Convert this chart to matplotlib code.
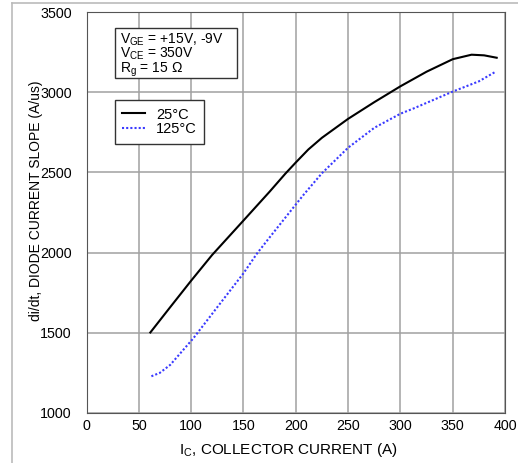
import matplotlib
matplotlib.use('Agg')
import matplotlib.pyplot as plt
from matplotlib.lines import Line2D
from matplotlib.patches import Rectangle

plt.rcParams['font.family'] = ['Liberation Sans', 'DejaVu Sans']
plt.rcParams['mathtext.fontset'] = 'custom'
plt.rcParams['mathtext.rm'] = 'Liberation Sans'

# 25C curve
ic_25 = [61, 80, 100, 120, 150, 175, 190, 200, 212, 225, 250, 275, 300, 325, 350, 368, 380, 392]
didt_25 = [1502, 1660, 1825, 1985, 2200, 2380, 2492, 2562, 2643, 2716, 2834, 2938, 3037, 3128, 3206, 3234, 3230, 3215]

# 125C curve
ic_125 = [62, 70, 80, 90, 102, 125, 150, 163, 175, 200, 208, 225, 250, 275, 300, 313, 350, 375, 391]
didt_125 = [1229, 1250, 1300, 1375, 1465, 1660, 1871, 1995, 2095, 2300, 2365, 2495, 2654, 2778, 2866, 2900, 3004, 3068, 3128]

xticks = [0, 50, 100, 150, 200, 250, 300, 350, 400]
yticks = [1000, 1500, 2000, 2500, 3000, 3500]

fig = plt.figure(figsize=(5.18, 4.63), dpi=100)
ax = fig.add_axes([0.167, 0.108, 0.808, 0.866])

ax.plot(ic_25, didt_25, color='black', lw=1.5, label='25°C')
ax.plot(ic_125, didt_125, color='#3a3aff', lw=1.5, ls=(0, (1, 1)), label='125°C')

ax.set_xlim(0, 400)
ax.set_ylim(1000, 3500)
ax.set_xticks(xticks)
ax.set_yticks(yticks)
ax.tick_params(length=0, labelsize=10.3)
ax.tick_params(axis='y', pad=10.5)
ax.tick_params(axis='x', pad=4)
ax.grid(True, color='#a0a0a0', lw=1.1)
for s in ax.spines.values():
    s.set_color('#555555')

ax.set_xlabel(r'I$_{\mathregular{C}}$, COLLECTOR CURRENT (A)', fontsize=11)
ax.xaxis.set_label_coords(0.483, -0.07)
ax.set_ylabel('di/dt, DIODE CURRENT SLOPE (A/us)', fontsize=10)
ax.yaxis.set_label_coords(-0.104, 0.529)

# test conditions box
ax.add_patch(Rectangle((0.068, 0.835), 0.292, 0.126, transform=ax.transAxes,
                       fc='white', ec='#333333', lw=1, zorder=4))
cond = ('V$_{\\mathregular{GE}}$ = +15V, -9V\n'
        'V$_{\\mathregular{CE}}$ = 350V\n'
        'R$_{\\mathregular{g}}$ = 15 \u03a9')
ax.text(0.081, 0.952, cond, transform=ax.transAxes, fontsize=10, va='top', ha='left',
        linespacing=0.85, zorder=5)

leg = ax.legend(loc='upper left', bbox_to_anchor=(0.068, 0.78), borderaxespad=0,
                fontsize=10.5, frameon=True, fancybox=False, edgecolor='#333333',
                framealpha=1, handlelength=1.55, borderpad=0.5, labelspacing=0.05,
                handletextpad=0.75)
leg.get_frame().set_linewidth(1)

# outer page border
fig.add_artist(Line2D([0.023, 0.023], [0, 0.9935], color='#bbbbbb', lw=1.2, transform=fig.transFigure))
fig.add_artist(Line2D([0.023, 1], [0.9935, 0.9935], color='#bbbbbb', lw=1.2, transform=fig.transFigure))

fig.savefig('out.png', dpi=100)
